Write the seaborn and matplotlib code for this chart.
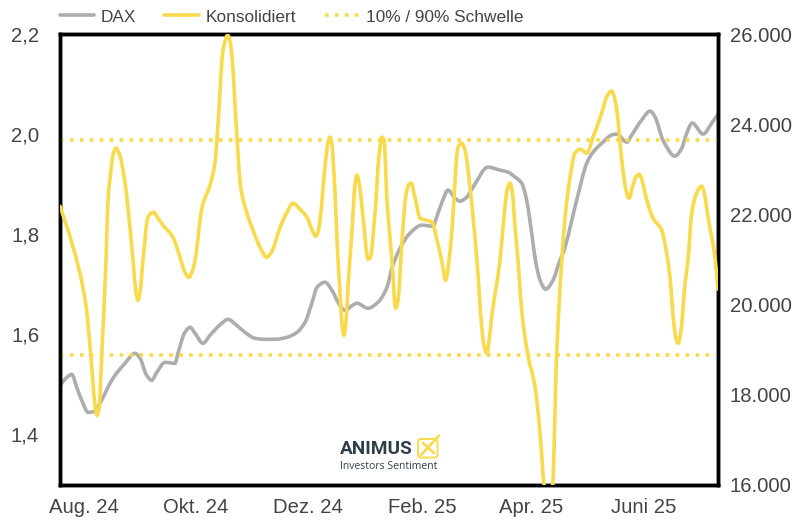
import matplotlib
matplotlib.use("Agg")
import matplotlib.pyplot as plt
import seaborn as sns
import pandas as pd
import numpy as np
from matplotlib.patches import FancyBboxPatch
from matplotlib.lines import Line2D
from matplotlib.path import Path
from matplotlib.patheffects import AbstractPathEffect
from matplotlib.transforms import IdentityTransform

start_date = "2024-07-19"
end_day = 357.6

konsolidiert_days = [0,6.5,14.1,17.4,19,20.1,21.2,22.8,25,26.1,27.7,28.8,30.4,32.1,35.3,38,39.7,41.3,42.4,43.5,45.1,47.8,49.5,50.9,52.9,56,61.4,65.2,67.9,69.9,71.7,73.4,77.2,81.5,84.2,85.9,88.4,89.7,91.1,92.4,93.5,95.7,98.2,101.6,104.9,108.7,112.3,115.2,119.6,123.4,126.6,130.4,134.2,137,139,140.2,141.3,144,145.7,146.7,147.8,148.9,151.1,152.2,153.3,154.3,155.4,156.5,158.7,160.3,161.4,162.5,164.7,167.4,168.5,171.2,173.4,175,176.1,177.7,180.4,182.4,183.7,185.9,188,189.7,190.8,193,195.7,199,202.2,204.9,207.4,209.6,211.4,213,216.3,218.3,220.1,222.8,226.6,229.2,230.4,231.9,233.2,234.6,239.1,240.8,243,244.6,245.7,247.3,248.9,250.9,254.3,258.2,260.9,263,265.5,267.8,269.9,272.7,274.5,277.2,279.9,282.6,286.3,289.7,294.4,297.3,299.8,301.1,302.6,305.3,307.6,309.2,311.4,313,314.7,316.3,317.9,322.3,327,329.7,331.5,333.7,334.8,335.9,337.5,339.7,341.3,343.3,346.2,348.7,350,352.2,356,357.6]
konsolidiert_values = [1.856,1.782,1.658,1.528,1.458,1.438,1.452,1.568,1.748,1.868,1.928,1.958,1.972,1.962,1.904,1.814,1.748,1.684,1.668,1.684,1.748,1.834,1.842,1.844,1.834,1.818,1.794,1.754,1.724,1.714,1.724,1.748,1.854,1.898,1.942,2.022,2.162,2.186,2.198,2.186,2.154,2.022,1.894,1.842,1.808,1.774,1.754,1.766,1.814,1.844,1.862,1.85,1.834,1.808,1.796,1.804,1.828,1.934,1.984,1.994,1.978,1.922,1.748,1.682,1.618,1.598,1.624,1.694,1.808,1.898,1.918,1.904,1.834,1.75,1.752,1.842,1.958,1.994,1.988,1.868,1.748,1.652,1.668,1.788,1.878,1.9,1.902,1.872,1.832,1.828,1.824,1.788,1.748,1.708,1.748,1.808,1.974,1.982,1.968,1.894,1.748,1.614,1.578,1.562,1.588,1.634,1.748,1.814,1.888,1.902,1.888,1.814,1.748,1.648,1.558,1.494,1.402,1.3,1.228,1.3,1.558,1.748,1.834,1.914,1.962,1.97,1.962,1.994,2.042,2.076,2.086,2.076,2.048,1.948,1.888,1.872,1.898,1.914,1.92,1.908,1.882,1.832,1.808,1.762,1.714,1.618,1.592,1.582,1.608,1.702,1.748,1.842,1.884,1.896,1.884,1.834,1.752,1.69]

dax_days = [0,3.8,6.4,9.1,12.5,15.2,19,21.7,28.1,29.9,35.3,40.8,43.5,47.1,49.8,52.6,57.1,62.5,64.1,67.9,70.7,73.4,77.7,81.5,87.9,91.3,96,100.5,106,111.4,116.8,123.4,128.8,133.2,137,139.7,144,148.4,151.1,154.9,158.2,161.4,167.4,172.8,177.7,180.4,184.8,190.2,196.6,202.7,204.7,207.4,210.9,214.7,217.4,221,224.5,232.6,239.1,243.5,247.3,250.9,253.6,256.5,258.2,260.9,264,267.9,271.7,273.4,280.8,286.3,289.7,295.1,299.8,302.6,308,310.7,316.1,320.7,323.4,327.7,334.2,337.9,340.6,343.6,349.5,354.2,357.6]
dax_values = [18201,18379,18445,18156,17801,17601,17623,17801,18312,18423,18690,18912,18801,18423,18312,18490,18712,18690,18912,19378,19490,19356,19134,19312,19578,19667,19534,19378,19245,19223,19223,19267,19378,19601,20045,20378,20489,20267,20045,19867,19956,20023,19912,20045,20378,20800,21245,21578,21756,21734,21934,22245,22534,22356,22289,22378,22600,23045,22978,22934,22823,22689,22312,21534,21023,20534,20334,20534,20978,21134,22312,23134,23378,23600,23756,23778,23600,23756,24089,24289,24156,23645,23289,23467,23800,24023,23778,24023,24223]

threshold_high = 1.989
threshold_low = 1.558
x_tick_dates = ["2024-08-01","2024-10-01","2024-12-01","2025-02-01","2025-04-01","2025-06-01"]
x_tick_labels = ["Aug. 24","Okt. 24","Dez. 24","Feb. 25","Apr. 25","Juni 25"]
left_ticks = [1.4,1.6,1.8,2.0,2.2]
left_labels = ["1,4","1,6","1,8","2,0","2,2"]
right_ticks = [16000,18000,20000,22000,24000,26000]
right_labels = ["16.000","18.000","20.000","22.000","24.000","26.000"]
legend_labels = ["DAX","Konsolidiert","10% / 90% Schwelle"]

YELLOW = "#F8DA4C"
GREY = "#ADADAD"
TEXT = "#444444"
DARK = "#2F3F4A"


class SmoothStroke(AbstractPathEffect):
    """Strokes a line's own vertices as a monotone Bezier curve instead of straight segments."""
    def draw_path(self, renderer, gc, tpath, affine, rgbFace=None):
        p = affine.transform(tpath.vertices)
        dx = np.maximum(np.diff(p[:, 0]), 1e-6)
        sec = np.diff(p[:, 1]) / dx
        m = np.zeros(len(p))
        w1 = 2 * dx[1:] + dx[:-1]
        w2 = dx[1:] + 2 * dx[:-1]
        idx = np.where(sec[:-1] * sec[1:] > 0)[0]
        m[idx + 1] = (w1[idx] + w2[idx]) / (w1[idx] / sec[idx] + w2[idx] / sec[idx + 1])
        m[0] = sec[0]
        m[-1] = sec[-1]
        verts = np.empty((3 * len(p) - 2, 2))
        verts[0::3] = p
        verts[1::3, 0] = p[:-1, 0] + dx / 3
        verts[1::3, 1] = p[:-1, 1] + m[:-1] * dx / 3
        verts[2::3, 0] = p[1:, 0] - dx / 3
        verts[2::3, 1] = p[1:, 1] - m[1:] * dx / 3
        codes = np.full(len(verts), Path.CURVE4)
        codes[0] = Path.MOVETO
        renderer.draw_path(gc, Path(verts, codes), IdentityTransform(), None)


sns.set_theme(style="white")
plt.rcParams["font.family"] = ["Liberation Sans", "DejaVu Sans"]

W, H = 795, 523
fig = plt.figure(figsize=(W/100, H/100), dpi=100)
ax = fig.add_axes([60/W, 1-484.5/H, 658/W, 450.5/H])
ax_r = ax.twinx()

t0 = pd.Timestamp(start_date)
df_k = pd.DataFrame({"date": t0 + pd.to_timedelta(konsolidiert_days, unit="D"), "v": konsolidiert_values})
df_d = pd.DataFrame({"date": t0 + pd.to_timedelta(dax_days, unit="D"), "v": dax_values})

LW = 2.6
DOT = (0, (1, 1.75))
sns.lineplot(data=df_d, x="date", y="v", ax=ax_r, color=GREY, lw=LW, errorbar=None, estimator=None, sort=False,
             path_effects=[SmoothStroke()])
ax.axhline(threshold_high, color=YELLOW, lw=LW, ls=DOT, zorder=2)
ax.axhline(threshold_low, color=YELLOW, lw=LW, ls=DOT, zorder=2)
sns.lineplot(data=df_k, x="date", y="v", ax=ax, color=YELLOW, lw=LW, errorbar=None, estimator=None, sort=False, zorder=3,
             path_effects=[SmoothStroke()])

ax.set_zorder(2); ax_r.set_zorder(1)
ax.patch.set_visible(False)
ax_r.patch.set_visible(True); ax_r.patch.set_facecolor("white")

ax.set_xlim(t0, t0 + pd.Timedelta(days=end_day))
ax.set_ylim(1.3, 2.2)
ax_r.set_ylim(16000, 26000)
ax.set_xticks(pd.to_datetime(x_tick_dates))
ax.set_xticklabels(x_tick_labels)
ax.set_yticks(left_ticks); ax.set_yticklabels(left_labels)
ax_r.set_yticks(right_ticks); ax_r.set_yticklabels(right_labels)
ax.set_xlabel(""); ax.set_ylabel(""); ax_r.set_xlabel(""); ax_r.set_ylabel("")
ax.tick_params(axis="x", length=0, pad=10, labelsize=14.6, labelcolor=TEXT)
ax.tick_params(axis="y", length=0, pad=15, labelsize=14.6, labelcolor=TEXT)
ax_r.tick_params(axis="y", length=0, pad=8.5, labelsize=14.6, labelcolor=TEXT)
ax.grid(False); ax_r.grid(False)
for a in (ax, ax_r):
    for s in a.spines.values():
        s.set_color("black"); s.set_linewidth(2.5); s.set_visible(True)

handles = [
    Line2D([], [], color=GREY, lw=LW),
    Line2D([], [], color=YELLOW, lw=LW),
    Line2D([], [], color=YELLOW, lw=LW, ls=DOT),
]
fig.legend(handles, legend_labels, ncol=3, loc="center left", bbox_to_anchor=(59.5/W, 1-17/H),
           bbox_transform=fig.transFigure, frameon=False, fontsize=12.4, labelcolor=TEXT,
           handlelength=2.0, handletextpad=0.4, columnspacing=1.64, borderpad=0, borderaxespad=0)

# logo
def px(x, y):
    return x/W, 1-y/H
fig.text(*px(339.5, 449.5), "ANIMUS", fontsize=13.7, fontweight="bold", family="Roboto", color=DARK, va="center", ha="left", zorder=5)
fig.text(*px(340, 466.5), "Investors Sentiment", fontsize=7.45, family="Open Sans", fontweight="medium", color=DARK, va="center", ha="left", zorder=5)
box = FancyBboxPatch(px(418, 457.5), 19.5/W, 18.5/H, boxstyle="round,pad=0,rounding_size=0.004",
                     transform=fig.transFigure, fill=False, ec=YELLOW, lw=1.4, mutation_aspect=W/H, zorder=5)
fig.add_artist(box)
for (a, b) in [((423, 443), (434, 453)), ((421, 455), (439, 435.5))]:
    fig.add_artist(Line2D([a[0]/W, b[0]/W], [1-a[1]/H, 1-b[1]/H], transform=fig.transFigure, color=YELLOW, lw=1.9, solid_capstyle="round", zorder=6))

fig.savefig("out.png", dpi=100, facecolor="white")
